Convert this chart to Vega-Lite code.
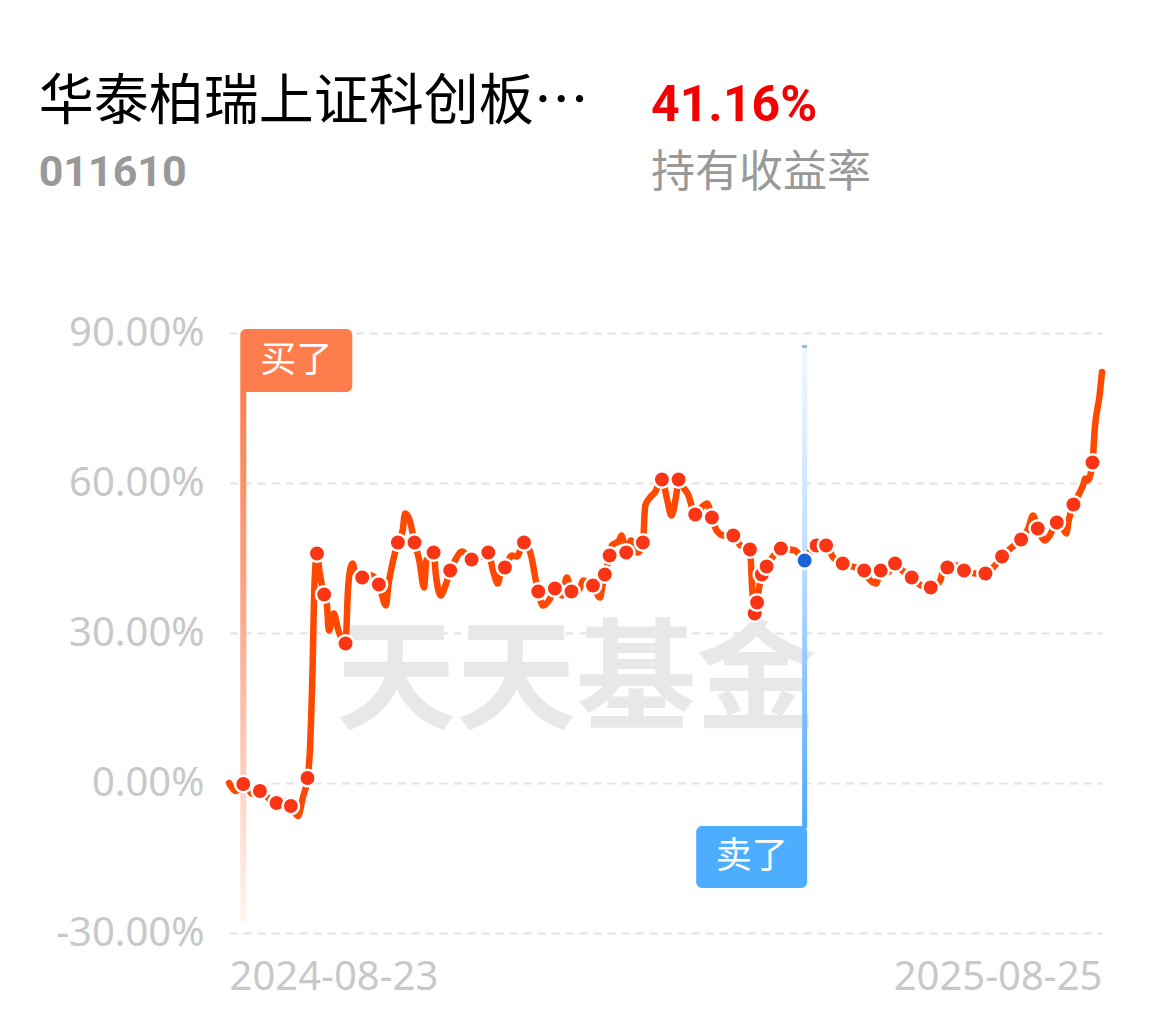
{
  "$schema": "https://vega.github.io/schema/vega-lite/v6.json",
  "padding": {"left": 38, "top": 75, "right": 10, "bottom": 10},
  "background": "#ffffff",
  "title": {
    "text": "华泰柏瑞上证科创板…",
    "subtitle": "011610",
    "anchor": "start",
    "frame": "bounds",
    "dx": -17,
    "offset": -115,
    "font": "Noto Sans CJK SC",
    "fontSize": 55,
    "fontWeight": "normal",
    "color": "#000000",
    "subtitleFont": "Roboto",
    "subtitleFontSize": 43,
    "subtitleFontWeight": "bold",
    "subtitleColor": "#999999",
    "subtitlePadding": 21
  },
  "datasets": {
    "nav": [
      {"date": "2024-08-23", "value": 0.0, "dot": false},
      {"date": "2024-08-26", "value": -1.6, "dot": false},
      {"date": "2024-08-29", "value": -0.2, "dot": true},
      {"date": "2024-09-02", "value": -2.2, "dot": false},
      {"date": "2024-09-05", "value": -1.6, "dot": true},
      {"date": "2024-09-09", "value": -3.2, "dot": false},
      {"date": "2024-09-12", "value": -4.0, "dot": true},
      {"date": "2024-09-15", "value": -3.6, "dot": false},
      {"date": "2024-09-18", "value": -4.6, "dot": true},
      {"date": "2024-09-21", "value": -6.6, "dot": false},
      {"date": "2024-09-23", "value": -3.0, "dot": false},
      {"date": "2024-09-25", "value": 1.0, "dot": true},
      {"date": "2024-09-26", "value": 6.4, "dot": false},
      {"date": "2024-09-27", "value": 20.4, "dot": false},
      {"date": "2024-09-28", "value": 40.5, "dot": false},
      {"date": "2024-09-29", "value": 45.9, "dot": true},
      {"date": "2024-09-30", "value": 42.5, "dot": false},
      {"date": "2024-10-02", "value": 37.7, "dot": true},
      {"date": "2024-10-03", "value": 36.5, "dot": false},
      {"date": "2024-10-04", "value": 30.5, "dot": false},
      {"date": "2024-10-06", "value": 33.9, "dot": false},
      {"date": "2024-10-08", "value": 30.5, "dot": false},
      {"date": "2024-10-11", "value": 27.9, "dot": true},
      {"date": "2024-10-12", "value": 38.5, "dot": false},
      {"date": "2024-10-13", "value": 42.9, "dot": false},
      {"date": "2024-10-14", "value": 43.9, "dot": false},
      {"date": "2024-10-15", "value": 42.1, "dot": false},
      {"date": "2024-10-18", "value": 41.1, "dot": true},
      {"date": "2024-10-22", "value": 41.5, "dot": false},
      {"date": "2024-10-25", "value": 39.7, "dot": true},
      {"date": "2024-10-28", "value": 35.5, "dot": false},
      {"date": "2024-10-29", "value": 39.5, "dot": false},
      {"date": "2024-10-31", "value": 44.5, "dot": false},
      {"date": "2024-11-02", "value": 48.1, "dot": true},
      {"date": "2024-11-04", "value": 50.5, "dot": false},
      {"date": "2024-11-05", "value": 53.9, "dot": false},
      {"date": "2024-11-07", "value": 52.5, "dot": false},
      {"date": "2024-11-09", "value": 48.1, "dot": true},
      {"date": "2024-11-11", "value": 44.5, "dot": false},
      {"date": "2024-11-13", "value": 39.1, "dot": false},
      {"date": "2024-11-14", "value": 44.5, "dot": false},
      {"date": "2024-11-17", "value": 46.1, "dot": true},
      {"date": "2024-11-18", "value": 41.5, "dot": false},
      {"date": "2024-11-20", "value": 37.5, "dot": false},
      {"date": "2024-11-22", "value": 39.5, "dot": false},
      {"date": "2024-11-24", "value": 42.5, "dot": true},
      {"date": "2024-11-26", "value": 44.5, "dot": false},
      {"date": "2024-11-29", "value": 46.3, "dot": false},
      {"date": "2024-12-03", "value": 44.7, "dot": true},
      {"date": "2024-12-07", "value": 45.3, "dot": false},
      {"date": "2024-12-10", "value": 46.1, "dot": true},
      {"date": "2024-12-12", "value": 42.5, "dot": false},
      {"date": "2024-12-14", "value": 39.9, "dot": false},
      {"date": "2024-12-15", "value": 41.5, "dot": false},
      {"date": "2024-12-17", "value": 43.1, "dot": true},
      {"date": "2024-12-20", "value": 45.5, "dot": false},
      {"date": "2024-12-22", "value": 45.3, "dot": false},
      {"date": "2024-12-25", "value": 48.1, "dot": true},
      {"date": "2024-12-28", "value": 45.5, "dot": false},
      {"date": "2024-12-30", "value": 40.5, "dot": false},
      {"date": "2024-12-31", "value": 38.3, "dot": true},
      {"date": "2025-01-02", "value": 35.5, "dot": false},
      {"date": "2025-01-05", "value": 36.9, "dot": false},
      {"date": "2025-01-07", "value": 38.9, "dot": true},
      {"date": "2025-01-10", "value": 37.5, "dot": false},
      {"date": "2025-01-12", "value": 41.1, "dot": false},
      {"date": "2025-01-14", "value": 38.3, "dot": true},
      {"date": "2025-01-17", "value": 38.5, "dot": false},
      {"date": "2025-01-19", "value": 40.5, "dot": false},
      {"date": "2025-01-23", "value": 39.5, "dot": true},
      {"date": "2025-01-26", "value": 37.1, "dot": false},
      {"date": "2025-01-27", "value": 39.5, "dot": false},
      {"date": "2025-01-28", "value": 41.7, "dot": true},
      {"date": "2025-01-30", "value": 45.5, "dot": true},
      {"date": "2025-01-31", "value": 47.5, "dot": false},
      {"date": "2025-02-03", "value": 48.5, "dot": false},
      {"date": "2025-02-04", "value": 49.5, "dot": false},
      {"date": "2025-02-06", "value": 46.1, "dot": true},
      {"date": "2025-02-08", "value": 48.5, "dot": false},
      {"date": "2025-02-11", "value": 46.1, "dot": false},
      {"date": "2025-02-13", "value": 48.1, "dot": true},
      {"date": "2025-02-14", "value": 55.5, "dot": false},
      {"date": "2025-02-16", "value": 57.1, "dot": false},
      {"date": "2025-02-18", "value": 58.1, "dot": false},
      {"date": "2025-02-21", "value": 60.7, "dot": true},
      {"date": "2025-02-23", "value": 57.1, "dot": false},
      {"date": "2025-02-25", "value": 53.5, "dot": false},
      {"date": "2025-02-27", "value": 57.5, "dot": false},
      {"date": "2025-02-28", "value": 60.7, "dot": true},
      {"date": "2025-03-02", "value": 59.1, "dot": false},
      {"date": "2025-03-04", "value": 57.7, "dot": false},
      {"date": "2025-03-07", "value": 53.7, "dot": true},
      {"date": "2025-03-10", "value": 55.3, "dot": false},
      {"date": "2025-03-12", "value": 55.9, "dot": false},
      {"date": "2025-03-14", "value": 53.1, "dot": true},
      {"date": "2025-03-16", "value": 50.5, "dot": false},
      {"date": "2025-03-19", "value": 49.5, "dot": false},
      {"date": "2025-03-23", "value": 49.5, "dot": true},
      {"date": "2025-03-26", "value": 47.5, "dot": false},
      {"date": "2025-03-30", "value": 46.7, "dot": true},
      {"date": "2025-03-31", "value": 38.5, "dot": false},
      {"date": "2025-04-01", "value": 33.9, "dot": true},
      {"date": "2025-04-02", "value": 36.1, "dot": true},
      {"date": "2025-04-03", "value": 39.5, "dot": false},
      {"date": "2025-04-04", "value": 41.7, "dot": true},
      {"date": "2025-04-06", "value": 43.3, "dot": true},
      {"date": "2025-04-09", "value": 45.5, "dot": false},
      {"date": "2025-04-12", "value": 46.9, "dot": true},
      {"date": "2025-04-18", "value": 46.5, "dot": false},
      {"date": "2025-04-22", "value": 44.5, "dot": false},
      {"date": "2025-04-25", "value": 46.9, "dot": false},
      {"date": "2025-04-27", "value": 47.5, "dot": true},
      {"date": "2025-05-01", "value": 47.5, "dot": true},
      {"date": "2025-05-04", "value": 45.1, "dot": false},
      {"date": "2025-05-08", "value": 43.9, "dot": true},
      {"date": "2025-05-12", "value": 43.3, "dot": false},
      {"date": "2025-05-17", "value": 42.5, "dot": true},
      {"date": "2025-05-19", "value": 40.9, "dot": false},
      {"date": "2025-05-22", "value": 39.9, "dot": false},
      {"date": "2025-05-24", "value": 42.5, "dot": true},
      {"date": "2025-05-27", "value": 42.1, "dot": false},
      {"date": "2025-05-30", "value": 43.9, "dot": true},
      {"date": "2025-06-02", "value": 42.5, "dot": false},
      {"date": "2025-06-06", "value": 41.1, "dot": true},
      {"date": "2025-06-10", "value": 39.5, "dot": false},
      {"date": "2025-06-14", "value": 39.1, "dot": true},
      {"date": "2025-06-16", "value": 39.5, "dot": false},
      {"date": "2025-06-18", "value": 40.5, "dot": false},
      {"date": "2025-06-20", "value": 43.9, "dot": false},
      {"date": "2025-06-21", "value": 43.1, "dot": true},
      {"date": "2025-06-25", "value": 43.5, "dot": false},
      {"date": "2025-06-28", "value": 42.5, "dot": true},
      {"date": "2025-07-03", "value": 41.9, "dot": false},
      {"date": "2025-07-07", "value": 41.9, "dot": true},
      {"date": "2025-07-11", "value": 43.5, "dot": false},
      {"date": "2025-07-14", "value": 45.3, "dot": true},
      {"date": "2025-07-18", "value": 47.1, "dot": false},
      {"date": "2025-07-22", "value": 48.7, "dot": true},
      {"date": "2025-07-25", "value": 50.9, "dot": false},
      {"date": "2025-07-27", "value": 53.5, "dot": false},
      {"date": "2025-07-29", "value": 50.9, "dot": true},
      {"date": "2025-08-01", "value": 48.5, "dot": false},
      {"date": "2025-08-03", "value": 49.5, "dot": false},
      {"date": "2025-08-06", "value": 52.1, "dot": true},
      {"date": "2025-08-08", "value": 51.5, "dot": false},
      {"date": "2025-08-10", "value": 49.9, "dot": false},
      {"date": "2025-08-11", "value": 52.5, "dot": false},
      {"date": "2025-08-13", "value": 55.7, "dot": true},
      {"date": "2025-08-15", "value": 57.5, "dot": false},
      {"date": "2025-08-17", "value": 59.5, "dot": false},
      {"date": "2025-08-18", "value": 60.9, "dot": false},
      {"date": "2025-08-19", "value": 60.5, "dot": false},
      {"date": "2025-08-21", "value": 64.1, "dot": true},
      {"date": "2025-08-22", "value": 71.1, "dot": false},
      {"date": "2025-08-24", "value": 77.6, "dot": false},
      {"date": "2025-08-25", "value": 82.2, "dot": false}
    ],
    "trades": [
      {"date": "2024-08-29", "action": "买了", "value": -0.2},
      {"date": "2025-04-22", "action": "卖了", "value": 44.5}
    ],
    "watermark": [
      {"label": "天天基金"}
    ]
  },
  "vconcat": [
    {
      "width": 873,
      "height": 600,
      "title": {
        "text": "41.16%",
        "subtitle": "持有收益率",
        "anchor": "start",
        "frame": "group",
        "dx": 422,
        "offset": 117,
        "font": "Roboto",
        "fontSize": 50,
        "fontWeight": "bold",
        "color": "#F50000",
        "subtitleFont": "Noto Sans CJK SC",
        "subtitleFontSize": 44,
        "subtitleFontWeight": "normal",
        "subtitleColor": "#999999",
        "subtitlePadding": 21
      },
      "layer": [
        {
          "data": {"name": "watermark"},
          "mark": {"type": "text", "font": "Noto Sans CJK SC", "fontWeight": "bold", "fontSize": 120, "color": "#E8E8E8", "align": "center", "baseline": "middle"},
          "encoding": {
            "x": {"datum": {"year": 2025, "month": 1, "date": 16, "utc": true}, "type": "temporal", "title": null},
            "y": {"datum": 19.8, "type": "quantitative", "title": null},
            "text": {"field": "label"}
          }
        },
        {
          "data": {"name": "trades"},
          "transform": [{"filter": "datum.action == '买了'"}],
          "mark": {"type": "rect", "xOffset": -3, "x2Offset": 3, "fill": {"gradient": "linear", "x1": 0, "y1": 0, "x2": 0, "y2": 1, "stops": [{"offset": 0, "color": "#FF7D4C"}, {"offset": 0.5, "color": "#FFB096"}, {"offset": 1, "color": "#FFF6F2"}]}},
          "encoding": {
            "x": {"field": "date", "type": "temporal", "title": null},
            "x2": {"field": "date"},
            "y": {"datum": 79, "type": "quantitative", "title": null},
            "y2": {"datum": -28}
          }
        },
        {
          "data": {"name": "trades"},
          "transform": [{"filter": "datum.action == '卖了'"}],
          "mark": {"type": "rect", "xOffset": -2.5, "x2Offset": 2.5, "fill": {"gradient": "linear", "x1": 0, "y1": 0, "x2": 0, "y2": 1, "stops": [{"offset": 0, "color": "#F2F8FF"}, {"offset": 0.45, "color": "#BCDDFF"}, {"offset": 1, "color": "#4DA8FF"}]}},
          "encoding": {
            "x": {"field": "date", "type": "temporal", "title": null},
            "x2": {"field": "date"},
            "y": {"datum": 87.2, "type": "quantitative", "title": null},
            "y2": {"datum": -9}
          }
        },
        {
          "data": {"name": "trades"},
          "transform": [{"filter": "datum.action == '卖了'"}],
          "mark": {"type": "rect", "xOffset": -2.5, "x2Offset": 2.5, "fill": "#86C0F5"},
          "encoding": {
            "x": {"field": "date", "type": "temporal", "title": null},
            "x2": {"field": "date"},
            "y": {"datum": 87.6, "type": "quantitative", "title": null},
            "y2": {"datum": 87.0}
          }
        },
        {
          "data": {"name": "nav"},
          "mark": {"type": "line", "interpolate": "monotone", "strokeWidth": 6.5, "color": "#FF4800", "strokeCap": "round", "strokeJoin": "round"},
          "encoding": {
            "x": {
              "field": "date",
              "type": "temporal",
              "title": null,
              "scale": {"type": "utc", "domain": [{"year": 2024, "month": 8, "date": 23, "utc": true}, {"year": 2025, "month": 8, "date": 25, "utc": true}]},
              "axis": {
                "values": [{"year": 2024, "month": 8, "date": 23, "utc": true}, {"year": 2025, "month": 8, "date": 25, "utc": true}],
                "labelExpr": "utcFormat(datum.value, '%Y-%m-%d')",
                "labelFlush": true,
                "labelLimit": 400,
                "labelPadding": 24,
                "grid": false,
                "title": null
              }
            },
            "y": {
              "field": "value",
              "type": "quantitative",
              "title": null,
              "scale": {"domain": [-30, 90], "nice": false, "zero": false},
              "axis": {
                "values": [-30, 0, 30, 60, 90],
                "labelExpr": "replace(format(datum.value, '.2f'), '−', '-') + '%'",
                "labelPadding": 25,
                "grid": true,
                "title": null
              }
            }
          }
        },
        {
          "data": {"name": "nav"},
          "transform": [{"filter": "datum.dot"}],
          "mark": {"type": "circle", "size": 270, "fill": "#FA3516", "stroke": "#FFFFFF", "strokeWidth": 2.5, "opacity": 1},
          "encoding": {
            "x": {"field": "date", "type": "temporal", "title": null},
            "y": {"field": "value", "type": "quantitative", "title": null}
          }
        },
        {
          "data": {"name": "trades"},
          "transform": [{"filter": "datum.action == '买了'"}],
          "mark": {"type": "rect", "xOffset": -3, "x2Offset": 109, "fill": "#FF7D4C", "cornerRadius": 6},
          "encoding": {
            "x": {"field": "date", "type": "temporal", "title": null},
            "x2": {"field": "date"},
            "y": {"datum": 90.8, "type": "quantitative", "title": null},
            "y2": {"datum": 78.2}
          }
        },
        {
          "data": {"name": "trades"},
          "transform": [{"filter": "datum.action == '买了'"}],
          "mark": {"type": "text", "xOffset": 53, "font": "Noto Sans CJK SC", "fontSize": 36, "color": "#FFFFFF", "align": "center", "baseline": "middle"},
          "encoding": {
            "x": {"field": "date", "type": "temporal", "title": null},
            "y": {"datum": 84.5, "type": "quantitative", "title": null},
            "text": {"field": "action"}
          }
        },
        {
          "data": {"name": "trades"},
          "transform": [{"filter": "datum.action == '卖了'"}],
          "mark": {"type": "rect", "xOffset": -108.5, "x2Offset": 2.5, "fill": "#4DADFF", "cornerRadius": 6},
          "encoding": {
            "x": {"field": "date", "type": "temporal", "title": null},
            "x2": {"field": "date"},
            "y": {"datum": -8.6, "type": "quantitative", "title": null},
            "y2": {"datum": -21}
          }
        },
        {
          "data": {"name": "trades"},
          "transform": [{"filter": "datum.action == '卖了'"}],
          "mark": {"type": "text", "xOffset": -53, "font": "Noto Sans CJK SC", "fontSize": 36, "color": "#FFFFFF", "align": "center", "baseline": "middle"},
          "encoding": {
            "x": {"field": "date", "type": "temporal", "title": null},
            "y": {"datum": -14.8, "type": "quantitative", "title": null},
            "text": {"field": "action"}
          }
        },
        {
          "data": {"name": "trades"},
          "transform": [{"filter": "datum.action == '卖了'"}],
          "mark": {"type": "circle", "size": 270, "fill": "#1766D9", "stroke": "#FFFFFF", "strokeWidth": 2.5, "opacity": 1},
          "encoding": {
            "x": {"field": "date", "type": "temporal", "title": null},
            "y": {"field": "value", "type": "quantitative", "title": null}
          }
        }
      ]
    }
  ],
  "config": {
    "view": {"stroke": null},
    "axis": {
      "domain": false,
      "ticks": false,
      "labelFont": "Noto Sans",
      "labelFontSize": 40,
      "labelColor": "#C8C8C8",
      "gridColor": "#E3E3E3",
      "gridWidth": 2,
      "gridDash": [8, 6]
    }
  }
}
